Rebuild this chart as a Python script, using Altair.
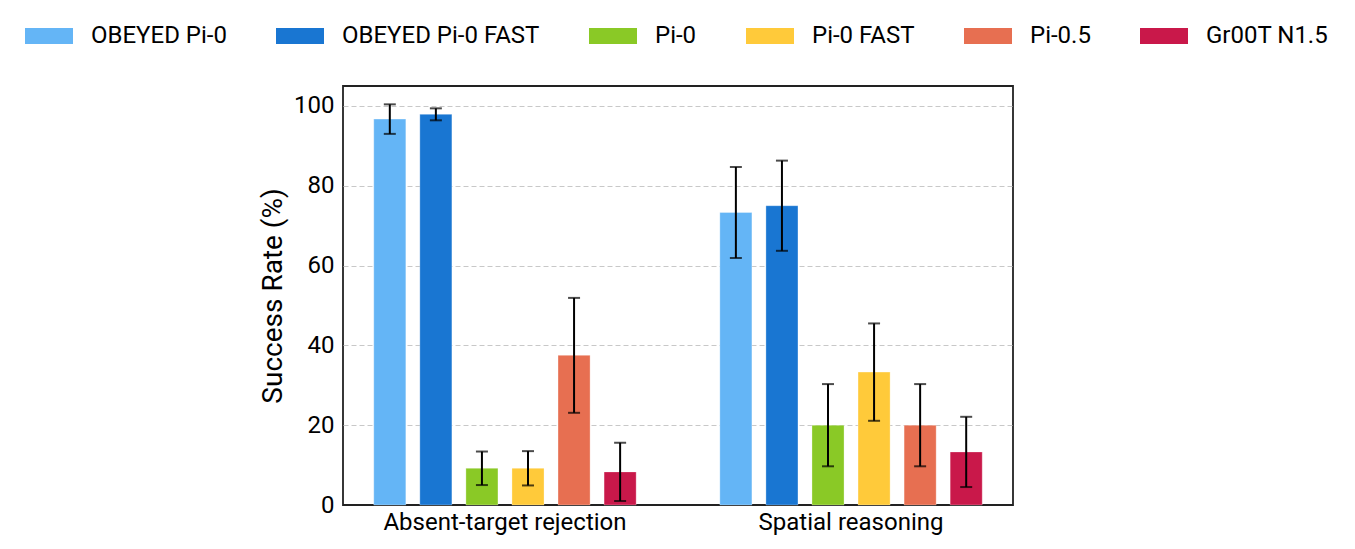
import altair as alt
import pandas as pd

tasks = ["Absent-target rejection", "Spatial reasoning"]
models = ["OBEYED Pi-0", "OBEYED Pi-0 FAST", "Pi-0", "Pi-0 FAST", "Pi-0.5", "Gr00T N1.5"]
colors = ["#64B5F6", "#1976D2", "#8AC926", "#FFCA3A", "#E76F51", "#C9184A"]

# success rates (%) per model: [absent-target, spatial]
rate_absent = [96.7, 97.9, 9.2, 9.2, 37.5, 8.3]
rate_spatial = [73.3, 75.0, 20.0, 33.3, 20.0, 13.3]
err_absent = [3.7, 1.5, 4.2, 4.3, 14.4, 7.3]
err_spatial = [11.4, 11.3, 10.3, 12.2, 10.3, 8.8]

rows = []
for i, m in enumerate(models):
    rows.append({"task": tasks[0], "model": m, "rate": rate_absent[i], "err": err_absent[i]})
    rows.append({"task": tasks[1], "model": m, "rate": rate_spatial[i], "err": err_spatial[i]})
df = pd.DataFrame(rows)
df["lo"] = df["rate"] - df["err"]
df["hi"] = df["rate"] + df["err"]

FONT = "Roboto"

x_enc = alt.X(
    "task:N",
    sort=tasks,
    title=None,
    scale=alt.Scale(paddingInner=0.2014, paddingOuter=0.0687),
    axis=alt.Axis(labelAngle=0, labelFontSize=24, labelColor="#000", ticks=False,
                  domain=False, labelPadding=5, labelFont=FONT, labelLimit=500,
                  labelFontWeight="normal"),
)
xoff = alt.XOffset("model:N", sort=models,
                   scale=alt.Scale(paddingInner=0.304, paddingOuter=0.152))

y_scale = alt.Scale(domain=[0, 105], nice=False)

base = alt.Chart(df)

bars = base.mark_bar(stroke="white", strokeWidth=0.6, strokeOpacity=0.5).encode(
    x=x_enc,
    xOffset=xoff,
    y=alt.Y(
        "rate:Q",
        scale=y_scale,
        title="Success Rate (%)",
        axis=alt.Axis(values=[0, 20, 40, 60, 80, 100], ticks=False, domain=False,
                      labelFontSize=24, labelColor="#000", labelPadding=9, labelFont=FONT,
                      labelFontWeight="normal",
                      titleFontSize=28, titleFontWeight="normal", titleColor="#000",
                      titleFont=FONT, titlePadding=6,
                      grid=True, gridDash=[5, 3], gridColor="#c8c8c8", gridWidth=1,
                      gridOpacity={"condition": {"test": "datum.value === 0", "value": 0},
                                   "value": 1}),
    ),
    color=alt.Color(
        "model:N",
        sort=models,
        scale=alt.Scale(domain=models, range=colors),
        legend=alt.Legend(
            title=None,
            orient="none",
            legendX=-318,
            legendY=-74,
            direction="horizontal",
            columns=6,
            symbolType="M-1,-0.333L1,-0.333L1,0.333L-1,0.333Z",
            symbolSize=2304,
            symbolStrokeWidth=0,
            symbolOpacity=1,
            labelFontSize=24,
            labelFont=FONT,
            labelFontWeight="normal",
            labelColor="#000",
            labelOffset=18,
            labelLimit=500,
            columnPadding=49,
        ),
    ),
)

rules = base.mark_rule(color="black", strokeWidth=2).encode(
    x=x_enc, xOffset=xoff,
    y=alt.Y("lo:Q", scale=y_scale), y2="hi:Q",
)
cap_lo = base.mark_tick(color="black", size=12, thickness=2).encode(
    x=x_enc, xOffset=xoff, y=alt.Y("lo:Q", scale=y_scale),
)
cap_hi = base.mark_tick(color="black", size=12, thickness=2).encode(
    x=x_enc, xOffset=xoff, y=alt.Y("hi:Q", scale=y_scale),
)

chart = alt.layer(bars, rules, cap_lo, cap_hi).properties(
    width=670,
    height=419,
    autosize=alt.AutoSizeParams(type="none"),
    padding={"left": 335, "top": 78, "right": 334, "bottom": 36},
).configure(font=FONT).configure_view(stroke="#222", strokeWidth=1.8)

chart.save("out.html", embed_options={"renderer": "svg", "actions": False})
